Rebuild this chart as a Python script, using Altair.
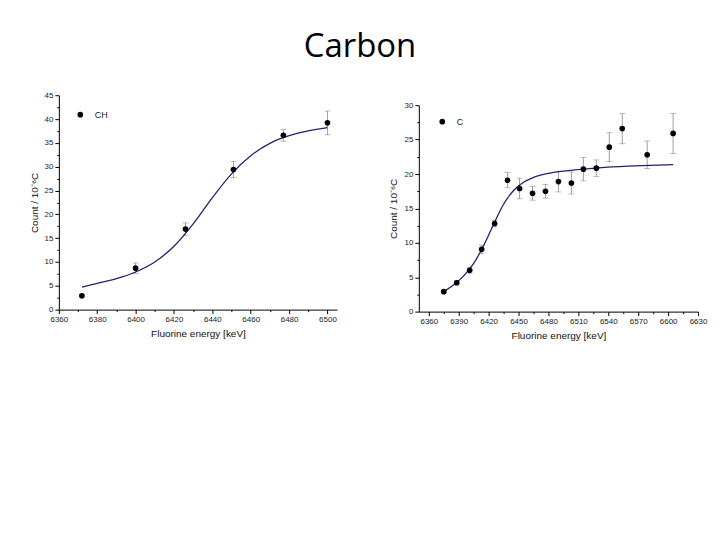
import altair as alt
import pandas as pd

# ---- CH panel data ----
ch_x = [6372, 6400, 6426, 6451, 6477, 6500]
ch_y = [2.9, 8.7, 16.9, 29.4, 36.6, 39.2]
ch_err = [0.3, 1.1, 1.3, 1.7, 1.25, 2.5]
ch_fit_x = [6372, 6380, 6390, 6400, 6410, 6420, 6430, 6440, 6450, 6460, 6470, 6480, 6490, 6500]
ch_fit_y = [4.7, 5.5, 6.5, 7.9, 10.0, 13.3, 18.0, 23.5, 28.5, 32.3, 34.9, 36.5, 37.5, 38.2]

# ---- C panel data ----
c_x = [6375, 6388, 6401, 6413, 6426, 6439, 6451, 6464, 6477, 6490, 6503, 6515, 6528, 6541, 6554, 6579, 6605]
c_y = [2.9, 4.2, 6.0, 9.05, 12.8, 19.1, 17.9, 17.2, 17.5, 18.9, 18.7, 20.7, 20.85, 23.9, 26.6, 22.8, 25.9]
c_err = [0.2, 0.3, 0.4, 0.6, 0.5, 1.1, 1.5, 1.0, 1.0, 1.5, 1.6, 1.7, 1.2, 2.1, 2.2, 2.0, 2.9]
c_fit_x = [6375, 6385, 6395, 6405, 6415, 6425, 6435, 6445, 6455, 6465, 6480, 6500, 6530, 6560, 6590, 6605]
c_fit_y = [2.9, 3.9, 5.2, 7.0, 9.6, 12.7, 15.6, 17.6, 18.8, 19.5, 20.1, 20.5, 20.9, 21.15, 21.3, 21.35]

ch_ticks_x = list(range(6360, 6501, 10))
ch_ticks_y = [i * 2.5 for i in range(0, 19)]
c_ticks_x = list(range(6360, 6631, 15))
c_ticks_y = [i * 2.5 for i in range(0, 13)]

FONT = "Liberation Sans"
LINE_COLOR = "#23236e"


def panel(xs, ys, errs, fx, fy, name, xdom, ydom, xt, yt, xmajor, w, h, ytitle, lx, ly):
    pts = pd.DataFrame({"x": xs, "y": ys, "lo": [a - b for a, b in zip(ys, errs)],
                        "hi": [a + b for a, b in zip(ys, errs)], "series": name})
    fit = pd.DataFrame({"x": fx, "y": fy})
    xscale = alt.Scale(domain=xdom, nice=False, zero=False)
    yscale = alt.Scale(domain=ydom, nice=False)
    xaxis = alt.Axis(values=xt, title="Fluorine energy [keV]",
                     labelExpr=f"datum.value % {xmajor} === 0 ? datum.label : ''",
                     format="d", labelOverlap=False, labelFlush=False,
                     tickSize={"condition": {"test": f"datum.value % {xmajor} === 0", "value": 4}, "value": 2})
    yaxis = alt.Axis(values=yt, title=ytitle, labelOverlap=False, labelFlush=False,
                     labelExpr="datum.value % 5 === 0 ? datum.label : ''",
                     tickSize={"condition": {"test": "datum.value % 5 === 0", "value": 4}, "value": 2})
    err = alt.Chart(pts).mark_errorbar(ticks={"size": 6, "color": "#888888"}, color="#888888", thickness=0.8).encode(
        x=alt.X("x:Q", scale=xscale, axis=xaxis),
        y=alt.Y("lo:Q", scale=yscale, axis=yaxis),
        y2="hi:Q",
    )
    line = alt.Chart(fit).mark_line(color=LINE_COLOR, strokeWidth=1.3, interpolate="monotone").encode(
        x=alt.X("x:Q", scale=xscale, axis=xaxis),
        y=alt.Y("y:Q", scale=yscale, axis=yaxis),
    )
    dots = alt.Chart(pts).mark_point(filled=True, size=32, opacity=1, shape="circle").encode(
        x=alt.X("x:Q", scale=xscale, axis=xaxis),
        y=alt.Y("y:Q", scale=yscale, axis=yaxis),
        color=alt.Color("series:N", scale=alt.Scale(domain=[name], range=["black"]),
                        legend=alt.Legend(title=None, orient="none", legendX=lx, legendY=ly, padding=0,
                                          symbolSize=32, symbolType="circle", labelFontSize=9,
                                          labelFont=FONT, labelOffset=10, labelColor="#222222")),
    )
    return alt.layer(err, line, dots).properties(width=w, height=h)


left = panel(ch_x, ch_y, ch_err, ch_fit_x, ch_fit_y, "CH", [6360, 6505], [0, 45],
             ch_ticks_x, ch_ticks_y, 20, 279, 215, "Count / 10⁻⁶C", 17, 15)
right = panel(c_x, c_y, c_err, c_fit_x, c_fit_y, "C", [6350, 6630], [0, 30],
              c_ticks_x, c_ticks_y, 30, 280, 207, "Count / 10⁻⁶C", 19, 22)

spacer = alt.Chart(pd.DataFrame({"a": [0]})).mark_point(opacity=0).encode(
    x=alt.value(0), y=alt.value(0)).properties(width=280, height=1)

right_col = alt.vconcat(spacer, right, spacing=3)

chart = alt.hconcat(left, right_col, spacing=52).resolve_scale(color="independent").resolve_legend(
    color="independent").properties(
    title=alt.TitleParams("Carbon", fontSize=33, font="Open Sans", fontWeight="normal",
                          color="black", anchor="middle", offset=27, dx=-8),
    padding={"left": 21, "top": 23, "right": 5, "bottom": 5},
).configure_view(stroke=None).configure_axis(
    grid=False, domainColor="black", tickColor="black", labelFont=FONT, labelFontSize=8,
    labelColor="#222222", titleFont=FONT, titleFontSize=10, titleFontWeight="normal",
    titleColor="#111111", labelPadding=2, titlePadding=5,
)

chart.save("out.html", embed_options={"renderer": "svg", "actions": False})
